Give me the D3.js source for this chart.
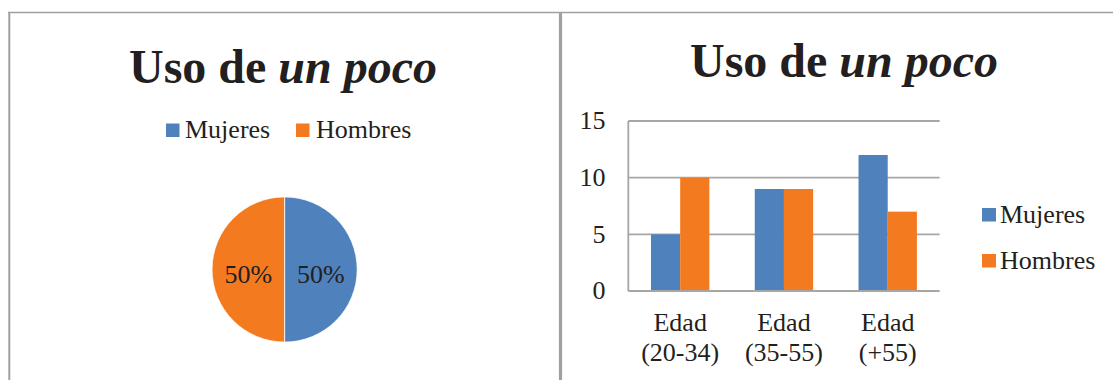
<!DOCTYPE html>
<html><head><meta charset="utf-8">
<script src="https://cdn.jsdelivr.net/npm/d3@7"></script>
</head>
<body style="margin:0">
<svg id="c" width="1113" height="380"></svg>
<script>
// ---- data ----
const series = ["Mujeres", "Hombres"];
const pieValues = [50, 50];
const categories = [["Edad", "(20-34)"], ["Edad", "(35-55)"], ["Edad", "(+55)"]];
const mujeres = [5, 9, 12];
const hombres = [10, 9, 7];
const yTicks = [0, 5, 10, 15];
const colors = ["#4F81BD", "#F47A20"];
const textColor = "#231F20";
const FS = 26;

const svg = d3.select("#c");

// frame
const border = "#A0A0A0";
svg.append("line").attr("x1", 8).attr("x2", 1113).attr("y1", 12.6).attr("y2", 12.6)
  .attr("stroke", border).attr("stroke-width", 1.5);
svg.append("line").attr("x1", 9.3).attr("x2", 9.3).attr("y1", 12).attr("y2", 380)
  .attr("stroke", border).attr("stroke-width", 2);
svg.append("line").attr("x1", 560.5).attr("x2", 560.5).attr("y1", 12).attr("y2", 380)
  .attr("stroke", border).attr("stroke-width", 3.2);

function addText(parent, x, yy, size, str) {
  return parent.append("text").attr("x", x).attr("y", yy).attr("font-size", size)
    .attr("font-family", "Times New Roman").attr("fill", textColor).text(str);
}

function title(cx, yy) {
  const t = svg.append("text").attr("x", cx).attr("y", yy).attr("font-size", 48)
    .attr("font-family", "Times New Roman").attr("font-weight", "bold")
    .attr("text-anchor", "middle").attr("fill", textColor);
  t.append("tspan").text("Uso de ");
  t.append("tspan").attr("font-style", "italic").text("un poco");
}

// ---- left: pie ----
title(283, 82.7);
const legL = [{x: 166, tx: 185}, {x: 296, tx: 316}];
series.forEach((s, i) => {
  svg.append("rect").attr("x", legL[i].x).attr("y", 123.5).attr("width", 13.5).attr("height", 13.5).attr("fill", colors[i]);
  addText(svg, legL[i].tx, 138.3, FS, s);
});

const R = 72.6, cx = 284.6, cy = 269.5;
const pie = d3.pie().sort(null).value(d => d);
const arcs = pie(pieValues);
const arc = d3.arc().innerRadius(0).outerRadius(R);
const g = svg.append("g").attr("transform", `translate(${cx},${cy})`);
g.selectAll("path").data(arcs).join("path").attr("d", arc)
  .attr("fill", (d, i) => colors[i]).attr("stroke", "#fff").attr("stroke-width", 0.8);
const total = d3.sum(pieValues);
arcs.forEach(d => {
  const c = arc.centroid(d);
  addText(g, c[0], c[1] + 13, FS, Math.round(d.data / total * 100) + "%").attr("text-anchor", "middle");
});

// ---- right: grouped bars ----
title(844, 77.3);
const y = d3.scaleLinear().domain([0, 15]).range([291, 121]);
const x0 = d3.scaleBand().domain(d3.range(categories.length)).range([628.3, 939.6]).padding(0);
const inner = x0.bandwidth() * 0.5625;
const x1 = d3.scaleBand().domain(series).range([0, inner]).padding(0);
const grid = "#A6A6A6";

svg.append("g").selectAll("line").data(yTicks.filter(t => t > 0)).join("line")
  .attr("x1", 628.3).attr("x2", 939.6).attr("y1", d => y(d)).attr("y2", d => y(d))
  .attr("stroke", grid).attr("stroke-width", 1.8);

const data = [mujeres, hombres];
series.forEach((s, si) => {
  svg.append("g").selectAll("rect").data(data[si]).join("rect")
    .attr("x", (d, i) => x0(i) + (x0.bandwidth() - inner) / 2 + x1(s))
    .attr("y", d => y(d)).attr("width", x1.bandwidth()).attr("height", d => y(0) - y(d))
    .attr("fill", colors[si]);
});

// axes lines
svg.append("line").attr("x1", 628.3).attr("x2", 939.6).attr("y1", y(0)).attr("y2", y(0))
  .attr("stroke", grid).attr("stroke-width", 1.8);
svg.append("line").attr("x1", 628.3).attr("x2", 628.3).attr("y1", y(15)).attr("y2", y(0))
  .attr("stroke", grid).attr("stroke-width", 1.8);

yTicks.forEach(t => addText(svg, 605.6, y(t) + 8.3, FS, String(t)).attr("text-anchor", "end"));

categories.forEach((c, i) => {
  const mx = x0(i) + x0.bandwidth() / 2;
  addText(svg, mx, 331, FS, c[0]).attr("text-anchor", "middle");
  addText(svg, mx, 360.5, FS, c[1]).attr("text-anchor", "middle");
});

const legR = [208, 254];
series.forEach((s, i) => {
  svg.append("rect").attr("x", 982).attr("y", legR[i]).attr("width", 14).attr("height", 13.5).attr("fill", colors[i]);
  addText(svg, 1000, legR[i] + 14.7, FS, s);
});
</script>
</body></html>
